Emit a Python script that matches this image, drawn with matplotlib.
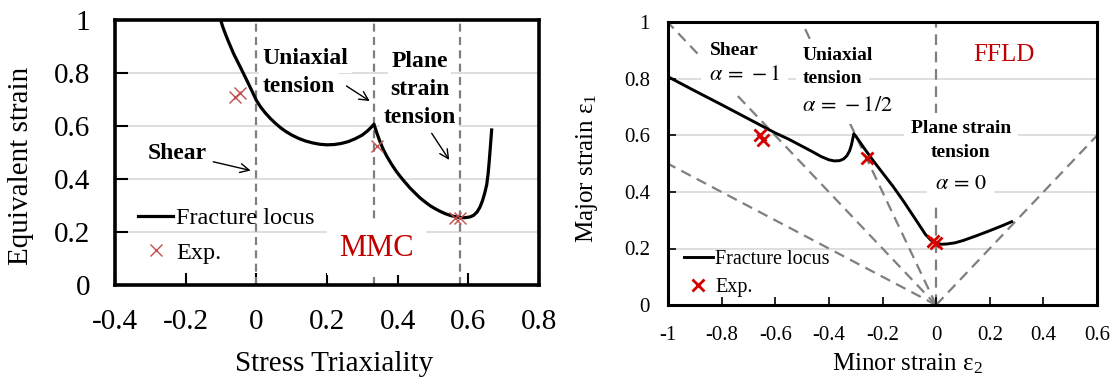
import matplotlib
matplotlib.use("Agg")
import matplotlib.pyplot as plt

plt.rcParams["font.family"] = ["Liberation Serif", "DejaVu Serif"]
plt.rcParams["mathtext.fontset"] = "stix"
plt.rcParams["axes.unicode_minus"] = False

# ---------------- data: MMC fracture locus (stress triaxiality vs equivalent strain)
mmc_eta = [-0.101, -0.095, -0.088, -0.080, -0.072, -0.064, -0.055, -0.046, -0.036,
           -0.025, -0.012, 0.000, 0.012, 0.025, 0.040, 0.055, 0.070, 0.085, 0.100,
           0.120, 0.140, 0.160, 0.180, 0.200, 0.220, 0.240, 0.260, 0.280, 0.300,
           0.315, 0.325, 0.333,
           0.340, 0.348, 0.359, 0.370, 0.383, 0.395, 0.407, 0.420, 0.435, 0.450,
           0.463, 0.478, 0.492, 0.506, 0.520, 0.535, 0.550, 0.563, 0.575, 0.590,
           0.605, 0.615, 0.625, 0.633, 0.640, 0.646, 0.652, 0.656, 0.659, 0.662,
           0.664, 0.666]
mmc_eps = [1.000, 0.974, 0.949, 0.922, 0.897, 0.872, 0.848, 0.824, 0.797,
           0.767, 0.731, 0.697, 0.672, 0.650, 0.628, 0.609, 0.592, 0.578, 0.566,
           0.553, 0.543, 0.536, 0.531, 0.529, 0.530, 0.534, 0.541, 0.552, 0.566,
           0.582, 0.595, 0.607,
           0.578, 0.548, 0.512, 0.484, 0.455, 0.431, 0.410, 0.389, 0.366, 0.346,
           0.329, 0.313, 0.299, 0.288, 0.278, 0.269, 0.262, 0.258, 0.255, 0.254,
           0.257, 0.263, 0.276, 0.294, 0.318, 0.345, 0.378, 0.420, 0.465, 0.515,
           0.550, 0.585]
mmc_exp_eta = [-0.060, -0.046, 0.341, 0.562, 0.576]
mmc_exp_eps = [0.711, 0.726, 0.525, 0.252, 0.252]
eta_marks = [0.0, 1 / 3, 0.577]          # shear, uniaxial, plane strain
left_xticks = [-0.4, -0.2, 0.0, 0.2, 0.4, 0.6, 0.8]
left_xlabels = ["-0.4", "-0.2", "0", "0.2", "0.4", "0.6", "0.8"]
left_yticks = [0.0, 0.2, 0.4, 0.6, 0.8, 1.0]
left_ylabels = ["0", "0.2", "0.4", "0.6", "0.8", "1"]

# ---------------- data: FFLD (minor strain vs major strain)
ffld_e2 = [-1.000, -0.900, -0.800, -0.700, -0.650, -0.600, -0.550, -0.500, -0.460,
           -0.430, -0.400, -0.380, -0.360, -0.345, -0.333, -0.323, -0.316, -0.311,
           -0.307, -0.300, -0.290, -0.270, -0.250, -0.234, -0.200, -0.160, -0.120,
           -0.090, -0.060, -0.040, -0.020, 0.000, 0.020, 0.040, 0.070, 0.100,
           0.150, 0.200, 0.250, 0.282]
ffld_e1 = [0.808, 0.758, 0.709, 0.659, 0.634, 0.609, 0.587, 0.562, 0.542,
           0.526, 0.514, 0.510, 0.511, 0.517, 0.528, 0.545, 0.566, 0.588,
           0.606, 0.598, 0.585, 0.557, 0.531, 0.510, 0.468, 0.419, 0.365,
           0.322, 0.279, 0.250, 0.230, 0.218, 0.215, 0.216, 0.220, 0.228,
           0.245, 0.263, 0.282, 0.295]
ffld_exp_e2 = [-0.657, -0.647, -0.257, -0.012, 0.0]
ffld_exp_e1 = [0.602, 0.584, 0.521, 0.225, 0.218]
path_end_e2 = [-1.0, -1.0, -0.5, 0.0, 0.6]   # proportional loading paths from origin
path_end_e1 = [1.0, 0.5, 1.0, 1.0, 0.6]
right_xticks = [-1.0, -0.8, -0.6, -0.4, -0.2, 0.0, 0.2, 0.4, 0.6]
right_xlabels = ["-1", "-0.8", "-0.6", "-0.4", "-0.2", "0", "0.2", "0.4", "0.6"]
right_yticks = [0.0, 0.2, 0.4, 0.6, 0.8, 1.0]
right_ylabels = ["0", "0.2", "0.4", "0.6", "0.8", "1"]

RED = "#C00000"
GRID = "#d4d4d4"
DASH = "#7f7f7f"

fig = plt.figure(figsize=(11.13, 3.81), dpi=100)
W, H = 1113, 381
axL = fig.add_axes([115 / W, 1 - 285 / H, 424 / W, 265 / H])
axR = fig.add_axes([668 / W, 1 - 305 / H, 429 / W, 282.5 / H])

# ================= left panel =================
ax = axL
ax.set_xlim(-0.4, 0.8)
ax.set_ylim(0, 1)
ax.set_xticks(left_xticks, left_xlabels)
ax.set_yticks(left_yticks, left_ylabels)
ax.tick_params(direction="in", length=9, width=1.5, labelsize=21, pad=17)
ax.tick_params(axis="y", pad=18)
for s in ax.spines.values():
    s.set_linewidth(2.6)
    s.set_zorder(10)
for yv in left_yticks[1:-1]:
    ax.axhline(yv, color=GRID, lw=1.1, zorder=0)
for xv in eta_marks:
    ax.axvline(xv, color=DASH, lw=1.6, dashes=(3.6, 2.4), zorder=2)

ax.plot(mmc_eta, mmc_eps, color="black", lw=2.3, zorder=5, label="Fracture locus",
        solid_joinstyle="round")
ax.plot(mmc_exp_eta, mmc_exp_eps, ls="none", marker="x", ms=8, mew=1.0,
        color="#C0504D", zorder=6, label="Exp.")

bold = dict(fontsize=17, fontweight="bold", va="baseline")
wbox = dict(boxstyle="square,pad=0.15", fc="white", ec="none")
ax.text(0.0175, 0.834, "Uniaxial", ha="left", bbox=wbox, zorder=1, **bold)
ax.text(0.0175, 0.729, "tension", ha="left", bbox=wbox, zorder=1, **bold)
ax.text(0.462, 0.824, "Plane", ha="center", bbox=wbox, zorder=1, **bold)
ax.text(0.462, 0.717, "strain", ha="center", bbox=wbox, zorder=1, **bold)
ax.text(0.462, 0.610, "tension", ha="center", bbox=wbox, zorder=1, **bold)
ax.text(-0.2225, 0.4736, "Shear", ha="center", bbox=wbox, zorder=1, **bold)
ax.text(0.339, 0.1094, "MMC", ha="center", va="baseline", fontsize=22, color=RED,
        bbox=dict(boxstyle="square,pad=0.4", fc="white", ec="none"), zorder=3)

arrow = dict(arrowstyle="->", lw=1.0, color="black", shrinkA=0, shrinkB=0,
             mutation_scale=16)
ax.annotate("", xy=(-0.016, 0.432), xytext=(-0.122, 0.465), arrowprops=arrow, zorder=4)
ax.annotate("", xy=(0.321, 0.694), xytext=(0.255, 0.751), arrowprops=arrow, zorder=4)
ax.annotate("", xy=(0.546, 0.472), xytext=(0.4963, 0.5725), arrowprops=arrow, zorder=4)

ax.legend(loc="upper left", bbox_to_anchor=(0.054, 0.293), frameon=False,
          fontsize=17.5, handlelength=1.45, handletextpad=0.12, labelspacing=0.5,
          borderpad=0, borderaxespad=0)

ax.set_xlabel("Stress Triaxiality", fontsize=21)
ax.xaxis.label.set_va("center")
ax.xaxis.set_label_coords((334 - 115) / 424, (285 - 364) / 265)
ax.set_ylabel("Equivalent strain", fontsize=21)
ax.yaxis.label.set_va("center")
ax.yaxis.set_label_coords((21 - 115) / 424, (285 - 166) / 265)

# ================= right panel =================
ax = axR
ax.set_xlim(-1, 0.6)
ax.set_ylim(0, 1)
ax.set_xticks(right_xticks, right_xlabels)
ax.set_yticks(right_yticks, right_ylabels)
ax.tick_params(direction="in", length=6, width=1.2, labelsize=15, pad=15)
ax.tick_params(axis="y", pad=13)
for s in ax.spines.values():
    s.set_linewidth(2.2)
    s.set_zorder(10)
for yv in right_yticks[1:-1]:
    ax.axhline(yv, color=GRID, lw=1.1, zorder=0)
for xe, ye in zip(path_end_e2, path_end_e1):
    ax.plot([0, xe], [0, ye], color=DASH, lw=1.6, dashes=(4.8, 3.0), zorder=1)

ax.plot(ffld_e2, ffld_e1, color="black", lw=2.1, zorder=5, label="Fracture locus",
        solid_joinstyle="round")
ax.plot(ffld_exp_e2, ffld_exp_e1, ls="none", marker="x", ms=8, mew=2.0,
        color="#D40000", zorder=6, label="Exp.")

boldR = dict(fontsize=14, fontweight="bold", va="baseline", zorder=3)
wboxR = dict(boxstyle="square,pad=0.35", fc="white", ec="none")
ax.text(-0.753, 0.885, "Shear", ha="center", bbox=wboxR, **boldR)
ax.text(-0.715, 0.814, r"$\alpha\,=\,-1$", ha="center", va="center", fontsize=16,
        bbox=wboxR, zorder=3)
ax.text(-0.498, 0.867, "Uniaxial", ha="left", bbox=wboxR, **boldR)
ax.text(-0.498, 0.785, "tension", ha="left", bbox=wboxR, **boldR)
ax.text(-0.332, 0.701, r"$\alpha\,=\,-1/2$", ha="center", va="center", fontsize=16,
        bbox=wboxR, zorder=3)
ax.text(0.092, 0.608, "Plane strain", ha="center", bbox=wboxR, **boldR)
ax.text(0.092, 0.525, "tension", ha="center", bbox=wboxR, **boldR)
ax.text(0.091, 0.425, r"$\alpha\,=\,0$", ha="center", va="center", fontsize=16,
        bbox=wboxR, zorder=3)
ax.text(0.254, 0.885, "FFLD", ha="center", va="center", fontsize=18, color=RED, zorder=3)

ax.legend(loc="upper left", bbox_to_anchor=(0.037, 0.194), frameon=False,
          fontsize=14.5, handlelength=1.45, handletextpad=0.1, labelspacing=0.42,
          borderpad=0, borderaxespad=0)

ax.set_xlabel(r"Minor strain $\mathregular{ε_2}$", fontsize=18)
ax.xaxis.label.set_va("center")
ax.xaxis.set_label_coords((908 - 668) / 429, (305 - 364) / 282.5)
ax.set_ylabel(r"Major strain $\mathregular{ε_1}$", fontsize=18)
ax.yaxis.label.set_va("center")
ax.yaxis.set_label_coords((587 - 668) / 429, (305 - 168.5) / 282.5)

fig.savefig("out.png", dpi=100)
